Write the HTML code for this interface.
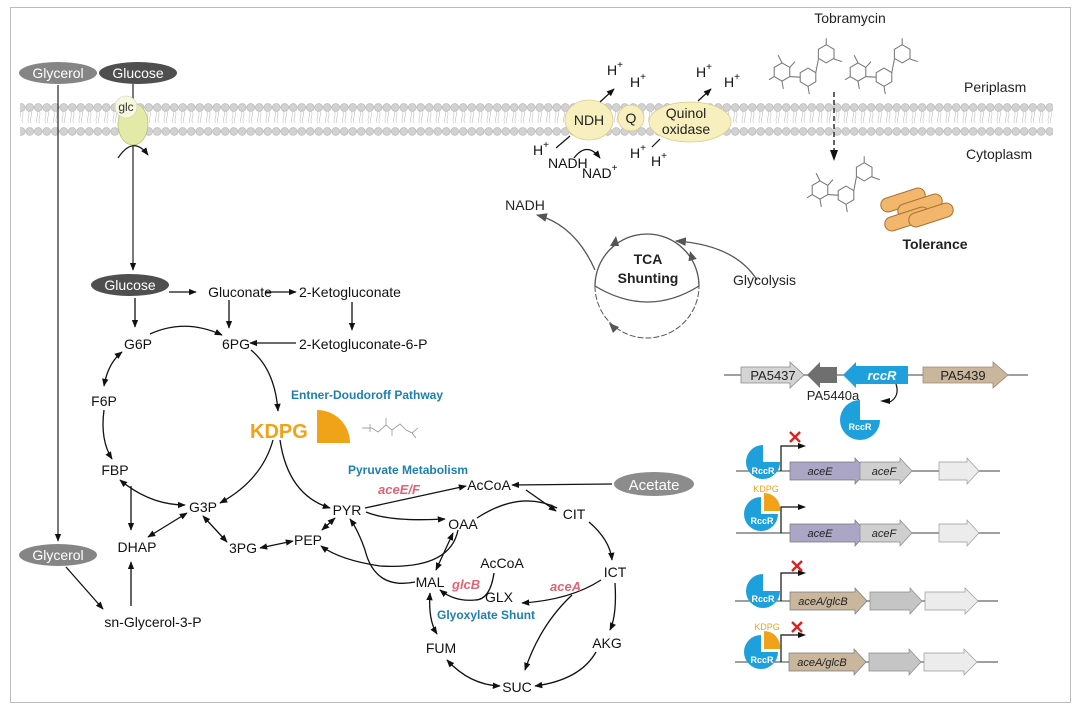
<!DOCTYPE html>
<html><head><meta charset="utf-8"><style>
html,body{margin:0;padding:0;background:#fff}
svg{display:block}
text{font-family:"Liberation Sans",Arial,sans-serif}
</style></head><body>
<svg width="1080" height="710" viewBox="0 0 1080 710" xmlns="http://www.w3.org/2000/svg">
<defs>
<marker id="a" viewBox="0 0 10 10" refX="9" refY="5" markerWidth="8" markerHeight="8" orient="auto-start-reverse" markerUnits="userSpaceOnUse"><path d="M0,1 L10,5 L0,9 z" fill="#111"/></marker>
<marker id="g" viewBox="0 0 10 10" refX="9" refY="5" markerWidth="11" markerHeight="11" orient="auto-start-reverse" markerUnits="userSpaceOnUse"><path d="M0,1 L10,5 L0,9 z" fill="#555"/></marker>
<pattern id="mem" x="0" y="103" width="8.5" height="34" patternUnits="userSpaceOnUse">
<circle cx="4.25" cy="4.5" r="3.9" fill="#d2d2d2" stroke="#b5b5b5" stroke-width="0.6"/>
<circle cx="4.25" cy="28.5" r="3.9" fill="#d2d2d2" stroke="#b5b5b5" stroke-width="0.6"/>
<path d="M3,8 q1,3 0,6 q-1,3 0,6 M5.5,8 q1,3 0,6 q-1,3 0,6" stroke="#c0c0c0" stroke-width="0.6" fill="none"/>
</pattern>
<g id="mol" stroke="#777" stroke-width="0.8" fill="none">
<polygon points="0,-7 6,-3.5 6,3.5 0,7 -6,3.5 -6,-3.5"/>
<polygon points="20,-3 26,0.5 26,7.5 20,11 14,7.5 14,0.5"/>
<polygon points="34,-21 40,-17.5 40,-10.5 34,-7 28,-10.5 28,-17.5"/>
<path d="M6,3.5 L14,4 M26,0.5 L28,-10 M0,-7 L-3,-13 M-6,3.5 L-10,6 M20,11 L21,17 M0,7 L1,13 M40,-10 L46,-8 M34,-21 L34,-26 M6,-3.5 L10,-8"/>
</g>
</defs>
<rect x="10.5" y="7.5" width="1060" height="695" fill="#fff" stroke="#bbb" stroke-width="1"/>
<rect x="20" y="103" width="1033" height="34" fill="url(#mem)"/>

<ellipse cx="58" cy="73" rx="39" ry="11" fill="#858585"/>
<text x="58" y="78" font-size="14" fill="#fff" text-anchor="middle">Glycerol</text>
<ellipse cx="138" cy="73" rx="39" ry="11" fill="#4f4f4f"/>
<text x="138" y="78" font-size="14" fill="#fff" text-anchor="middle">Glucose</text>
<line x1="58" y1="85" x2="58" y2="541" stroke="#333" stroke-width="1.3" marker-end="url(#a)"/>
<line x1="133" y1="84" x2="133" y2="100" stroke="#333" stroke-width="1.3"/>
<ellipse cx="133" cy="124" rx="15" ry="21" fill="#e3eaa8" stroke="#b8bf80" stroke-width="0.8"/>
<circle cx="126" cy="107" r="11" fill="#f8f8dc" stroke="#ccc" stroke-width="0.6"/>
<text x="126" y="111" font-size="12" fill="#333" text-anchor="middle">glc</text>
<path d="M118,158 Q133,135 148,155" stroke="#222" stroke-width="1.3" fill="none" marker-end="url(#a)"/>
<line x1="133" y1="145" x2="133" y2="270" stroke="#333" stroke-width="1.3" marker-end="url(#a)"/>

<ellipse cx="130" cy="285" rx="39" ry="11" fill="#4f4f4f"/>
<text x="130" y="290" font-size="14" fill="#fff" text-anchor="middle">Glucose</text>
<g font-size="14" fill="#111">
<text x="240" y="297" text-anchor="middle">Gluconate</text>
<text x="299" y="297">2-Ketogluconate</text>
<text x="138" y="349" text-anchor="middle">G6P</text>
<text x="236" y="349" text-anchor="middle">6PG</text>
<text x="299" y="349">2-Ketogluconate-6-P</text>
<text x="104" y="406" text-anchor="middle">F6P</text>
<text x="115" y="475" text-anchor="middle">FBP</text>
<text x="203" y="512" text-anchor="middle">G3P</text>
<text x="137" y="552" text-anchor="middle">DHAP</text>
<text x="243" y="553" text-anchor="middle">3PG</text>
<text x="308" y="545" text-anchor="middle">PEP</text>
<text x="347" y="515" text-anchor="middle">PYR</text>
<text x="153" y="627" text-anchor="middle">sn-Glycerol-3-P</text>
<text x="489" y="490" text-anchor="middle">AcCoA</text>
<text x="574" y="519" text-anchor="middle">CIT</text>
<text x="463" y="529" text-anchor="middle">OAA</text>
<text x="615" y="577" text-anchor="middle">ICT</text>
<text x="607" y="648" text-anchor="middle">AKG</text>
<text x="517" y="692" text-anchor="middle">SUC</text>
<text x="441" y="653" text-anchor="middle">FUM</text>
<text x="430" y="587" text-anchor="middle">MAL</text>
<text x="502" y="568" text-anchor="middle">AcCoA</text>
<text x="499" y="602" text-anchor="middle">GLX</text>
</g>
<ellipse cx="58" cy="555" rx="39" ry="11" fill="#858585"/>
<text x="58" y="560" font-size="14" fill="#fff" text-anchor="middle">Glycerol</text>
<ellipse cx="654" cy="484" rx="40" ry="12" fill="#8c8c8c"/>
<text x="654" y="490" font-size="15" fill="#fff" text-anchor="middle">Acetate</text>

<g stroke="#111" stroke-width="1.3" fill="none">
<line x1="169" y1="292" x2="196" y2="292" marker-end="url(#a)"/>
<line x1="266" y1="292" x2="296" y2="292" marker-end="url(#a)"/>
<line x1="135" y1="298" x2="135" y2="327" marker-end="url(#a)"/>
<line x1="229" y1="300" x2="229" y2="328" marker-end="url(#a)"/>
<line x1="352" y1="302" x2="352" y2="330" marker-end="url(#a)"/>
<line x1="296" y1="343" x2="250" y2="343" marker-end="url(#a)"/>
<path d="M150,334 Q185,318 222,335" marker-end="url(#a)"/>
<path d="M251,350 Q275,370 278,411" marker-end="url(#a)"/>
<path d="M122,352 Q108,363 104,386" marker-start="url(#a)" marker-end="url(#a)"/>
<path d="M104,410 Q100,440 112,459" marker-end="url(#a)"/>
<path d="M120,480 Q150,505 185,505" marker-start="url(#a)" marker-end="url(#a)"/>
<line x1="131" y1="486" x2="131" y2="530" marker-end="url(#a)"/>
<line x1="148" y1="537" x2="187" y2="513" marker-start="url(#a)" marker-end="url(#a)"/>
<line x1="131" y1="606" x2="131" y2="562" marker-end="url(#a)"/>
<line x1="66" y1="567" x2="103" y2="609" marker-end="url(#a)"/>
<line x1="203" y1="516" x2="227" y2="542" marker-start="url(#a)" marker-end="url(#a)"/>
<line x1="260" y1="548" x2="293" y2="541" marker-start="url(#a)" marker-end="url(#a)"/>
<line x1="322" y1="530" x2="335" y2="518" marker-start="url(#a)" marker-end="url(#a)"/>
<path d="M273,440 Q262,480 220,503" marker-end="url(#a)"/>
<path d="M280,440 Q288,495 330,508" marker-end="url(#a)"/>
<path d="M365,508 L466,486" marker-end="url(#a)"/>
<path d="M366,512 Q390,522 445,519" marker-end="url(#a)"/>
<line x1="612" y1="484" x2="512" y2="485" marker-end="url(#a)"/>
<line x1="526" y1="490" x2="556" y2="511" marker-end="url(#a)"/>
<path d="M477,518 Q520,490 557,508"/>
<path d="M589,522 Q610,540 612,560" marker-end="url(#a)"/>
<path d="M615,583 Q617,615 610,630" marker-end="url(#a)"/>
<path d="M596,652 Q580,680 535,686" marker-end="url(#a)"/>
<path d="M447,660 Q470,685 500,686" marker-start="url(#a)" marker-end="url(#a)"/>
<path d="M430,593 Q428,620 437,634" marker-start="url(#a)" marker-end="url(#a)"/>
<path d="M436,570 L453,533" marker-start="url(#a)" marker-end="url(#a)"/>
<path d="M458,530 Q450,570 380,566 Q340,560 321,546" marker-end="url(#a)"/>
<path d="M415,582 Q375,590 365,550 Q358,530 350,519" marker-end="url(#a)"/>
<path d="M601,580 Q570,600 522,603" marker-end="url(#a)"/>
<path d="M572,595 Q540,625 525,670" marker-end="url(#a)"/>
<path d="M494,573 Q490,600 475,600 Q455,602 440,590" marker-end="url(#a)"/>
</g>

<text x="291" y="399" font-size="12" font-weight="bold" fill="#1e7fae">Entner-Doudoroff Pathway</text>
<text x="250" y="438" font-size="20" font-weight="bold" fill="#f0a318">KDPG</text>
<path d="M317,443 L317,410 A33,33 0 0 1 350,443 Z" fill="#f0a318"/>
<g stroke="#888" stroke-width="0.7" fill="none">
<path d="M362,428 L372,428 L378,432 L386,425 L392,430 L400,424 L406,430 L412,433 M386,425 L386,418 M392,430 L392,436 M412,433 L416,438 M412,433 L418,428 M370,424 L370,432"/>
</g>
<text x="348" y="474" font-size="12" font-weight="bold" fill="#1e7fae">Pyruvate Metabolism</text>
<text x="378" y="494" font-size="13" font-weight="bold" font-style="italic" fill="#e06474">aceE/F</text>
<text x="452" y="589" font-size="13" font-weight="bold" font-style="italic" fill="#e06474">glcB</text>
<text x="550" y="591" font-size="13" font-weight="bold" font-style="italic" fill="#e06474">aceA</text>
<text x="437" y="619" font-size="12" font-weight="bold" fill="#1e7fae">Glyoxylate Shunt</text>

<ellipse cx="589" cy="120" rx="24" ry="20" fill="#f7efbd" stroke="#d9cc8e" stroke-width="0.8"/>
<circle cx="631" cy="118" r="13" fill="#f7efbd" stroke="#d9cc8e" stroke-width="0.8"/>
<ellipse cx="690" cy="122" rx="41" ry="20" fill="#f7efbd" stroke="#d9cc8e" stroke-width="0.8"/>
<text x="589" y="125" font-size="14" fill="#222" text-anchor="middle">NDH</text>
<text x="631" y="123" font-size="14" fill="#222" text-anchor="middle">Q</text>
<text x="686" y="118" font-size="14" fill="#222" text-anchor="middle">Quinol</text>
<text x="686" y="134" font-size="14" fill="#222" text-anchor="middle">oxidase</text>
<g font-size="14" fill="#111">
<text x="607" y="75">H<tspan font-size="10" dy="-7">+</tspan></text>
<text x="630" y="87">H<tspan font-size="10" dy="-7">+</tspan></text>
<text x="696" y="77">H<tspan font-size="10" dy="-7">+</tspan></text>
<text x="724" y="87">H<tspan font-size="10" dy="-7">+</tspan></text>
<text x="533" y="155">H<tspan font-size="10" dy="-7">+</tspan></text>
<text x="548" y="168">NADH</text>
<text x="582" y="178">NAD<tspan font-size="10" dy="-7">+</tspan></text>
<text x="630" y="158">H<tspan font-size="10" dy="-7">+</tspan></text>
<text x="651" y="166">H<tspan font-size="10" dy="-7">+</tspan></text>
</g>
<g stroke="#111" stroke-width="1.2" fill="none">
<line x1="600" y1="102" x2="614" y2="89" marker-end="url(#a)"/>
<line x1="698" y1="101" x2="711" y2="89" marker-end="url(#a)"/>
<line x1="556" y1="148" x2="570" y2="136"/>
<line x1="652" y1="147" x2="660" y2="139"/>
<path d="M574,158 Q587,141 600,158" marker-end="url(#a)"/>
</g>

<text x="850" y="23" font-size="14" fill="#222" text-anchor="middle">Tobramycin</text>
<use href="#mol" transform="translate(782,72) scale(1.3)"/>
<use href="#mol" transform="translate(858,72) scale(1.3)"/>
<use href="#mol" transform="translate(820,190) scale(1.3)"/>
<line x1="834" y1="92" x2="834" y2="152" stroke="#111" stroke-width="1.3" stroke-dasharray="5,3"/>
<path d="M830,150 L838,150 L834,161 Z" fill="#111"/>
<text x="964" y="92" font-size="14" fill="#222">Periplasm</text>
<text x="966" y="159" font-size="14" fill="#222">Cytoplasm</text>
<g fill="#f2b76c" stroke="#a9712f" stroke-width="1">
<rect x="880" y="193" width="46" height="14" rx="7" transform="rotate(-18 903 200)"/>
<rect x="897" y="199" width="46" height="14" rx="7" transform="rotate(-18 920 206)"/>
<rect x="884" y="212" width="46" height="14" rx="7" transform="rotate(-18 907 219)"/>
<rect x="908" y="208" width="46" height="14" rx="7" transform="rotate(-18 931 215)"/>
</g>
<text x="935" y="249" font-size="14" font-weight="bold" fill="#222" text-anchor="middle">Tolerance</text>

<g stroke="#555" stroke-width="1.3" fill="none">
<path d="M595,286 A52,52 0 0 1 699,286"/>
<path d="M595,286 A52,52 0 0 0 699,286" stroke-dasharray="6,2" stroke-width="1"/>
<path d="M595,286 Q648,318 699,286"/>
<path d="M595,270 Q575,225 537,215" marker-end="url(#g)"/>
<path d="M757,280 Q735,245 676,241" marker-end="url(#g)"/>
</g>
<path d="M610,246 l6,-10 l3,10z" fill="#555"/>
<path d="M689,262 l-2,-10 l9,5z" fill="#555" transform="rotate(20 691 260)"/>
<path d="M609,323 l4,10 l6,-6z" fill="#555"/>
<text x="525" y="210" font-size="14" fill="#222" text-anchor="middle">NADH</text>
<text x="733" y="285" font-size="14" fill="#222">Glycolysis</text>
<text x="648" y="264" font-size="14" font-weight="bold" fill="#222" text-anchor="middle">TCA</text>
<text x="648" y="283" font-size="14" font-weight="bold" fill="#222" text-anchor="middle">Shunting</text>

<line x1="724" y1="375" x2="1028" y2="375" stroke="#666" stroke-width="1.2"/>
<polygon points="741,367 790,367 790,362 804,375 790,388 790,383 741,383" fill="#d4d4d4" stroke="#888" stroke-width="0.8"/>
<polygon points="837,367 820,367 820,362 807,375 820,388 820,383 837,383" fill="#6f6f6f"/>
<polygon points="908,366 856,366 856,362 843,375 856,388 856,384 908,384" fill="#1ea0dc"/>
<polygon points="923,367 993,367 993,362 1008,375 993,388 993,383 923,383" fill="#c9b69d" stroke="#9b8a72" stroke-width="0.8"/>
<text x="773" y="380" font-size="13" fill="#222" text-anchor="middle">PA5437</text>
<text x="882" y="380" font-size="13" fill="#fff" font-weight="bold" font-style="italic" text-anchor="middle">rccR</text>
<text x="963" y="380" font-size="13" fill="#222" text-anchor="middle">PA5439</text>
<text x="833" y="400" font-size="13" fill="#222" text-anchor="middle">PA5440a</text>
<path d="M896,384 Q900,396 890,402" stroke="#111" stroke-width="1.2" fill="none"/>
<path d="M880,401 L890,398 L890,404Z" fill="#111"/>
<path d="M860,420 L860,400 A20,20 0 1 0 880,420 Z" fill="#1ea0dc"/>
<text x="860" y="430" font-size="9" fill="#fff" font-weight="bold" text-anchor="middle">RccR</text>

<g stroke="#666" stroke-width="1.2">
<line x1="736" y1="471" x2="1000" y2="471"/>
<line x1="736" y1="533" x2="1000" y2="533"/>
<line x1="735" y1="601" x2="998" y2="601"/>
<line x1="735" y1="662" x2="998" y2="662"/>
</g>
<g fill="none" stroke="#111" stroke-width="1.2">
<path d="M781,471 L781,446 L800,446"/>
<path d="M781,533 L781,507 L800,507"/>
<path d="M781,601 L781,573 L800,573"/>
<path d="M781,662 L781,635 L800,635"/>
</g>
<g fill="#111">
<path d="M806,446 L798,443 L798,449Z"/><path d="M806,507 L798,504 L798,510Z"/>
<path d="M806,573 L798,570 L798,576Z"/><path d="M806,635 L798,632 L798,638Z"/>
</g>
<g stroke="#e02020" stroke-width="2.4">
<path d="M790,432 L800,442 M800,432 L790,442"/>
<path d="M792,561 L802,571 M802,561 L792,571"/>
<path d="M792,622 L802,632 M802,622 L792,632"/>
</g>
<polygon points="790,462 855,462 855,458 867,471 855,484 855,480 790,480" fill="#aca6c6" stroke="#777" stroke-width="0.7"/>
<polygon points="860,462 900,462 900,458 912,471 900,484 900,480 860,480" fill="#cfcfcf" stroke="#888" stroke-width="0.7"/>
<polygon points="939,462 967,462 967,458 979,471 967,484 967,480 939,480" fill="#ececec" stroke="#999" stroke-width="0.7"/>
<polygon points="790,524 855,524 855,520 867,533 855,546 855,542 790,542" fill="#aca6c6" stroke="#777" stroke-width="0.7"/>
<polygon points="860,524 900,524 900,520 912,533 900,546 900,542 860,542" fill="#cfcfcf" stroke="#888" stroke-width="0.7"/>
<polygon points="939,524 967,524 967,520 979,533 967,546 967,542 939,542" fill="#ececec" stroke="#999" stroke-width="0.7"/>
<polygon points="790,592 855,592 855,588 867,601 855,614 855,610 790,610" fill="#c9b69d" stroke="#777" stroke-width="0.7"/>
<polygon points="870,592 910,592 910,588 922,601 910,614 910,610 870,610" fill="#c5c5c5" stroke="#888" stroke-width="0.7"/>
<polygon points="925,592 965,592 965,588 978,601 965,614 965,610 925,610" fill="#ececec" stroke="#999" stroke-width="0.7"/>
<polygon points="789,653 854,653 854,649 866,662 854,675 854,671 789,671" fill="#c9b69d" stroke="#777" stroke-width="0.7"/>
<polygon points="869,653 909,653 909,649 921,662 909,675 909,671 869,671" fill="#c5c5c5" stroke="#888" stroke-width="0.7"/>
<polygon points="924,653 964,653 964,649 977,662 964,675 964,671 924,671" fill="#ececec" stroke="#999" stroke-width="0.7"/>
<g font-size="11" font-style="italic" fill="#222" text-anchor="middle">
<text x="820" y="475">aceE</text><text x="884" y="475">aceF</text>
<text x="820" y="537">aceE</text><text x="884" y="537">aceF</text>
<text x="823" y="605">aceA/glcB</text><text x="822" y="666">aceA/glcB</text>
</g>
<path d="M763,462 L763,445 A17,17 0 1 0 780,462 Z" fill="#1ea0dc"/>
<text x="763" y="474" font-size="9" fill="#fff" font-weight="bold" text-anchor="middle">RccR</text>
<path d="M761,514 L761,497 A17,17 0 1 0 778,514 Z" fill="#1ea0dc"/>
<path d="M764,511 L764,493 A16,16 0 0 1 780,511 Z" fill="#f0a318"/>
<text x="762" y="524" font-size="9" fill="#fff" font-weight="bold" text-anchor="middle">RccR</text>
<text x="766" y="492" font-size="9" fill="#f0a318" text-anchor="middle">KDPG</text>
<path d="M763,591 L763,574 A17,17 0 1 0 780,591 Z" fill="#1ea0dc"/>
<text x="763" y="602" font-size="9" fill="#fff" font-weight="bold" text-anchor="middle">RccR</text>
<path d="M761,652 L761,635 A17,17 0 1 0 778,652 Z" fill="#1ea0dc"/>
<path d="M764,649 L764,631 A16,16 0 0 1 780,649 Z" fill="#f0a318"/>
<text x="762" y="663" font-size="9" fill="#fff" font-weight="bold" text-anchor="middle">RccR</text>
<text x="767" y="630" font-size="9" fill="#f0a318" text-anchor="middle">KDPG</text>
</svg>
</body></html>
